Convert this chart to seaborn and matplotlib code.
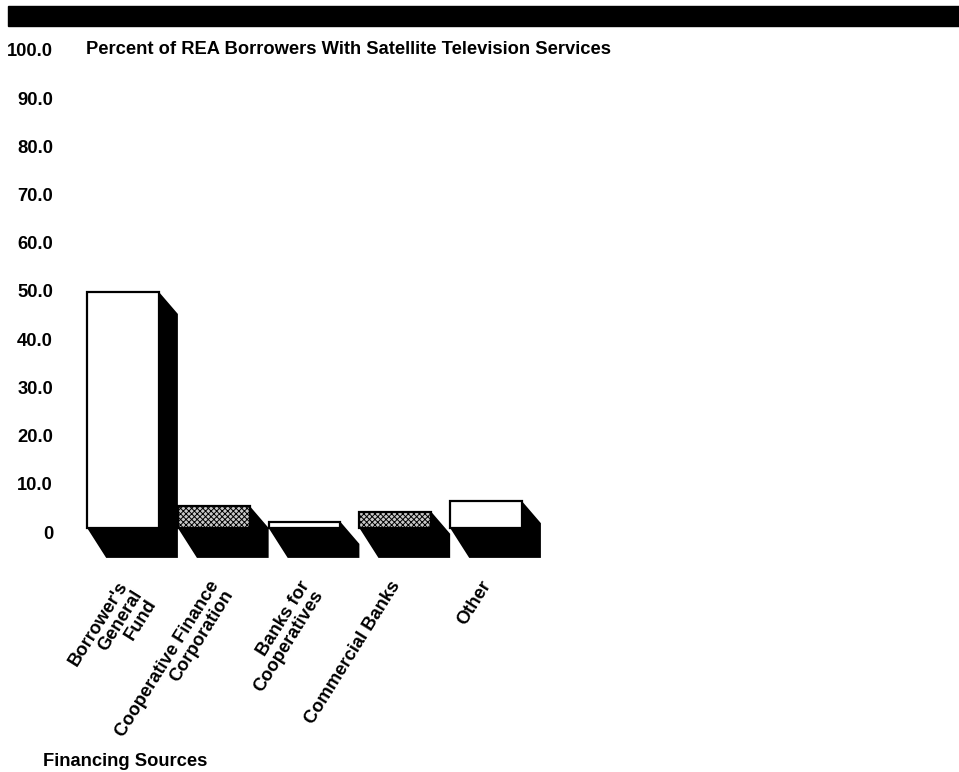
import matplotlib
matplotlib.use("Agg")
import matplotlib.pyplot as plt
import matplotlib.transforms as mtransforms
from matplotlib.patches import Rectangle
import seaborn as sns
import pandas as pd

# ---- data ----
categories = ["Borrower's\nGeneral\nFund", "Cooperative Finance\nCorporation",
              "Banks for\nCooperatives", "Commercial Banks", "Other"]
values = [49.0, 4.6, 1.3, 3.4, 5.6]
hatched = [False, True, False, True, False]
y_ticks = [0, 10, 20, 30, 40, 50, 60, 70, 80, 90, 100]
y_tick_labels = ["0", "10.0", "20.0", "30.0", "40.0", "50.0", "60.0", "70.0",
                 "80.0", "90.0", "100.0"]
title = "Percent of REA Borrowers With Satellite Television Services"
x_title = "Financing Sources"

sns.set_style("white")
plt.rcParams["font.family"] = ["Liberation Sans", "DejaVu Sans"]
plt.rcParams["font.weight"] = "bold"
plt.rcParams["text.color"] = "black"
plt.rcParams["xtick.color"] = "black"
plt.rcParams["ytick.color"] = "black"
plt.rcParams["hatch.linewidth"] = 0.7

FS = 13.2
W, H = 959, 772
fig = plt.figure(figsize=(W / 100, H / 100), dpi=100)
ax = fig.add_axes([60 / W, (H - 578) / H, (W - 60) / W, 578 / H])

df = pd.DataFrame({"source": categories, "pct": values})
bar_width = 0.79
sns.barplot(data=df, x="source", y="pct", hue="source", palette=["white"] * len(categories),
            legend=False, width=bar_width, edgecolor="black", linewidth=1.6, ax=ax,
            zorder=3, saturation=1)

for p, h in zip(ax.patches, hatched):
    if h:
        p.set_hatch("xxxxxx")
        p.set_facecolor("#c8c8c8")

# 3-D side and floor shading
dx = 0.21      # depth in category units
dy_side = 4.6  # depth drop of side face (value units)
dy_floor = 6.2 # floor depth (value units)
for i, v in enumerate(values):
    xl, xr = i - bar_width / 2, i + bar_width / 2
    xs = [xr, xr + dx, xr + dx, xl + dx, xl, xr]
    ys = [v, v - dy_side, -dy_floor, -dy_floor, 0, 0]
    ax.fill(xs, ys, color="black", zorder=2, lw=0)

ax.set_xlim(-0.694, 9.212)
ax.set_ylim(-10.37, 109.54)
ax.set_yticks(y_ticks)
ax.set_yticklabels(y_tick_labels, fontsize=FS, fontweight="bold", color="black")
ax.set_xticks(range(len(categories)))
ax.set_xticklabels(categories, fontsize=FS, fontweight="bold", color="black")
ax.tick_params(axis="both", length=0, pad=5)
ax.tick_params(axis="x", pad=0)
ax.set_xlabel("")
ax.set_ylabel("")
for s in ax.spines.values():
    s.set_visible(False)
ax.grid(False)

offy = mtransforms.ScaledTranslation(0, -4 / 100, fig.dpi_scale_trans)
for lab in ax.get_yticklabels():
    lab.set_transform(lab.get_transform() + offy)

offx = mtransforms.ScaledTranslation(-6 / 100, 0, fig.dpi_scale_trans)
for lab in ax.get_xticklabels():
    lab.set_rotation(58)
    lab.set_ha("right")
    lab.set_va("top")
    lab.set_rotation_mode("anchor")
    lab.set_multialignment("right")
    lab.set_linespacing(1.0)
    lab.set_transform(lab.get_transform() + offx)

# header band
fig.patches.append(Rectangle((8 / W, 1 - 26 / H), (W - 8) / W, 20 / H,
                             transform=fig.transFigure, color="black", zorder=0))
fig.text(86 / W, 1 - 50 / H, title, ha="left", va="center", fontsize=FS,
         fontweight="bold", color="black")
fig.text(43 / W, 1 - 762 / H, x_title, ha="left", va="center", fontsize=FS,
         fontweight="bold", color="black")

fig.savefig("out.png", dpi=100)
